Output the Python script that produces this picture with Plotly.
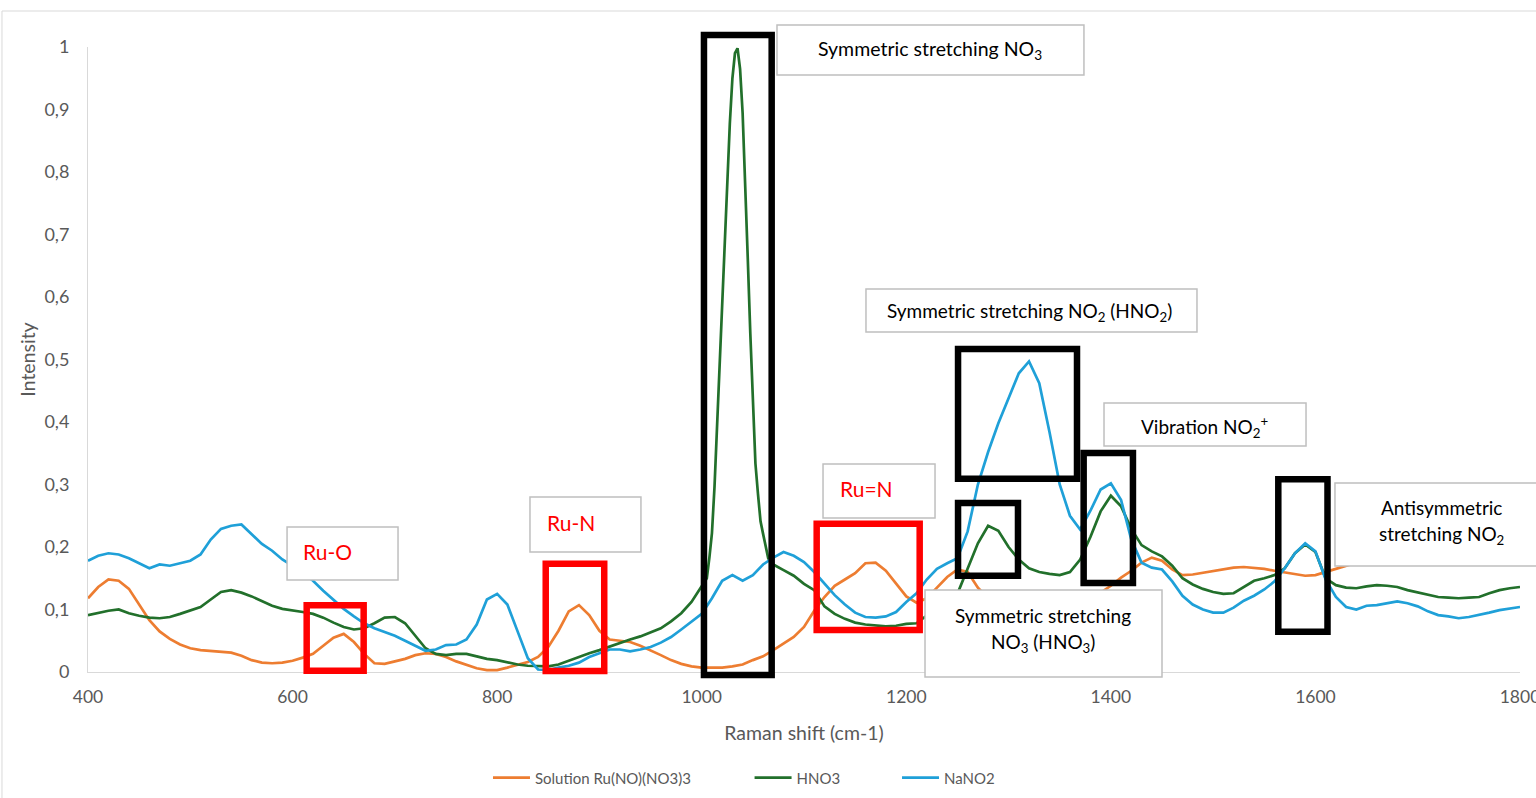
import plotly.graph_objects as go

# ---------------------------------------------------------------------------
# Raman spectra (intensity normalised to the strongest band)
# ---------------------------------------------------------------------------
X_MIN, X_MAX = 400, 1800

# Raman shift grid (cm-1) for the Ru solution and the NaNO2 spectra
shift = list(range(400, 1801, 10))

# HNO3 grid: same sampling, with a finer step across the 1035 cm-1 band
shift_hno3 = (list(range(400, 1000, 10))
              + [1000 + 2.5 * i for i in range(29)]
              + list(range(1080, 1801, 10)))

ru_solution = [
    0.118, 0.136, 0.148, 0.146, 0.133, 0.107, 0.083, 0.065, 0.053, 0.044,
    0.038, 0.035, 0.034, 0.033, 0.031, 0.026, 0.019, 0.015, 0.014, 0.015,
    0.018, 0.023, 0.029, 0.042, 0.055, 0.061, 0.048, 0.029, 0.014, 0.013,
    0.017, 0.021, 0.027, 0.030, 0.029, 0.024, 0.017, 0.011, 0.006, 0.003,
    0.003, 0.007, 0.011, 0.016, 0.024, 0.040, 0.066, 0.097, 0.107, 0.091,
    0.066, 0.052, 0.050, 0.048, 0.042, 0.035, 0.027, 0.019, 0.013, 0.009,
    0.007, 0.007, 0.007, 0.009, 0.012, 0.019, 0.025, 0.035, 0.046, 0.056,
    0.072, 0.098, 0.120, 0.138, 0.148, 0.158, 0.174, 0.175, 0.162, 0.142,
    0.121, 0.111, 0.118, 0.135, 0.152, 0.164, 0.160, 0.135, 0.118, 0.105,
    0.096, 0.090, 0.088, 0.090, 0.094, 0.100, 0.107, 0.114, 0.121, 0.127,
    0.138, 0.151, 0.162, 0.175, 0.183, 0.178, 0.164, 0.155, 0.156, 0.159,
    0.162, 0.165, 0.167, 0.168, 0.167, 0.165, 0.162, 0.159, 0.156, 0.154,
    0.155, 0.160, 0.165, 0.171, 0.175, 0.178, 0.180, 0.182, 0.183, 0.184,
    0.184, 0.185, 0.185, 0.186, 0.186, 0.186, 0.187, 0.187, 0.188, 0.188,
    0.188,
]

hno3 = [
    # 400 - 990
    0.091, 0.095, 0.098, 0.100, 0.094, 0.090, 0.087, 0.086, 0.088, 0.093,
    0.098, 0.104, 0.116, 0.128, 0.131, 0.127, 0.121, 0.113, 0.106, 0.101,
    0.099, 0.096, 0.093, 0.087, 0.079, 0.072, 0.068, 0.070, 0.078, 0.087,
    0.088, 0.078, 0.058, 0.038, 0.029, 0.027, 0.029, 0.029, 0.025, 0.021,
    0.019, 0.015, 0.012, 0.010, 0.009, 0.009, 0.012, 0.018, 0.025, 0.030,
    0.035, 0.041, 0.047, 0.052, 0.057, 0.063, 0.070, 0.081, 0.094, 0.112,
    # 1000 - 1070 (step 2.5)
    0.138, 0.145, 0.150, 0.183, 0.222, 0.296, 0.392, 0.493, 0.592, 0.690,
    0.793, 0.878, 0.950, 0.990, 0.998, 0.965, 0.894, 0.793, 0.663, 0.542,
    0.428, 0.334, 0.285, 0.241, 0.221, 0.204, 0.182, 0.175, 0.172,
    # 1080 - 1800
    0.163, 0.154, 0.141, 0.131, 0.105, 0.093, 0.085, 0.079, 0.076, 0.074,
    0.073, 0.074, 0.077, 0.078, 0.090, 0.103, 0.115, 0.125, 0.165, 0.206,
    0.234, 0.226, 0.200, 0.180, 0.166, 0.160, 0.157, 0.155, 0.160, 0.180,
    0.216, 0.257, 0.282, 0.265, 0.229, 0.203, 0.193, 0.185, 0.170, 0.150,
    0.140, 0.133, 0.128, 0.125, 0.126, 0.136, 0.146, 0.150, 0.155, 0.166,
    0.190, 0.204, 0.192, 0.150, 0.139, 0.135, 0.134, 0.137, 0.139, 0.138,
    0.136, 0.131, 0.127, 0.123, 0.120, 0.119, 0.118, 0.119, 0.120, 0.126,
    0.131, 0.134, 0.136,
]

nano2 = [
    0.178, 0.186, 0.190, 0.188, 0.182, 0.174, 0.166, 0.172, 0.170, 0.174,
    0.178, 0.188, 0.212, 0.229, 0.234, 0.236, 0.220, 0.205, 0.194, 0.180,
    0.170, 0.158, 0.146, 0.130, 0.116, 0.101, 0.089, 0.078, 0.070, 0.064,
    0.058, 0.050, 0.042, 0.034, 0.036, 0.043, 0.044, 0.052, 0.076, 0.116,
    0.125, 0.108, 0.065, 0.022, 0.004, 0.003, 0.007, 0.010, 0.015, 0.024,
    0.030, 0.036, 0.036, 0.033, 0.036, 0.040, 0.047, 0.056, 0.068, 0.080,
    0.093, 0.118, 0.146, 0.155, 0.146, 0.155, 0.172, 0.183, 0.192, 0.186,
    0.176, 0.160, 0.141, 0.123, 0.108, 0.095, 0.088, 0.087, 0.089, 0.096,
    0.112, 0.126, 0.148, 0.165, 0.174, 0.182, 0.225, 0.300, 0.352, 0.398,
    0.438, 0.478, 0.497, 0.462, 0.384, 0.300, 0.250, 0.228, 0.258, 0.292,
    0.302, 0.275, 0.212, 0.175, 0.167, 0.164, 0.145, 0.122, 0.108, 0.100,
    0.095, 0.095, 0.103, 0.114, 0.122, 0.132, 0.145, 0.166, 0.190, 0.206,
    0.193, 0.148, 0.120, 0.104, 0.100, 0.106, 0.107, 0.110, 0.113, 0.110,
    0.105, 0.097, 0.091, 0.089, 0.086, 0.088, 0.091, 0.095, 0.099, 0.102,
    0.104,
]

x_ticks = [400, 600, 800, 1000, 1200, 1400, 1600, 1800]
y_ticks = [0, 0.1, 0.2, 0.3, 0.4, 0.5, 0.6, 0.7, 0.8, 0.9, 1]
y_tick_text = ["0", "0,1", "0,2", "0,3", "0,4", "0,5", "0,6", "0,7", "0,8", "0,9", "1"]

series_names = ["Solution Ru(NO)(NO3)3", "HNO3", "NaNO2"]
series_colors = ["#ED7D31", "#22702B", "#1FA0D8"]

# legend entry left edges (fraction of figure width)
legend_x = [0.3177, 0.4880, 0.5840]

# ---------------------------------------------------------------------------
# Band highlight frames (x in cm-1, y in intensity): x0, x1, y0, y1, colour
# ---------------------------------------------------------------------------
band_frames = [
    (613.8, 669.5, 0.0019, 0.1067, "#FF0000"),   # Ru-O
    (847.5, 904.7, 0.0016, 0.1733, "#FF0000"),   # Ru-N
    (1112.4, 1213.1, 0.0672, 0.2371, "#FF0000"), # Ru=N
    (1002.2, 1068.4, -0.0048, 1.0192, "#000000"),
    (1250.6, 1366.9, 0.3093, 0.5168, "#000000"),
    (1250.6, 1309.2, 0.1539, 0.2704, "#000000"),
    (1373.4, 1421.6, 0.1424, 0.3504, "#000000"),
    (1563.7, 1611.8, 0.0645, 0.3083, "#000000"),
]

# Label boxes: x0, x1, y0, y1
label_boxes = [
    (1073.6, 1373.7, 0.9552, 1.0352),
    (594.6, 703.1, 0.1472, 0.2320),
    (832.1, 940.6, 0.1920, 0.2800),
    (1118.6, 1228.1, 0.2464, 0.3328),
    (1160.6, 1484.2, 0.5440, 0.6128),
    (1393.3, 1590.8, 0.3616, 0.4304),
    (1619.1, 1828.3, 0.1696, 0.3024),
    (1218.3, 1450.0, -0.0080, 0.1312),
]

# Label texts: x, y, text, colour, anchor, size
label_texts = [
    (1223.2, 0.9952, "Symmetric stretching NO<sub>3</sub>", "#000000", "center", 19.5),
    (608.2, 0.1936, "Ru-O", "#FF0000", "left", 21),
    (846.8, 0.2400, "Ru-N", "#FF0000", "left", 21),
    (1133.2, 0.2944, "Ru=N", "#FF0000", "left", 21),
    (1320.9, 0.5760, "Symmetric stretching NO<sub>2</sub> (HNO<sub>2</sub>)", "#000000", "center", 19),
    (1492.0, 0.3920, "Vibration NO<sub>2</sub><sup>+</sup>", "#000000", "center", 19),
    (1723.7, 0.2640, "Antisymmetric", "#000000", "center", 19),
    (1723.7, 0.2192, "stretching NO<sub>2</sub>", "#000000", "center", 19),
    (1333.6, 0.0912, "Symmetric stretching", "#000000", "center", 19),
    (1333.6, 0.0464, "NO<sub>3</sub> (HNO<sub>3</sub>)", "#000000", "center", 19),
]

FONT = "Lato, 'Open Sans', sans-serif"
GREY_TEXT = "#595959"


def px(x):
    """Raman shift -> fraction of the plotting area width."""
    return (x - X_MIN) / (X_MAX - X_MIN)


fig = go.Figure()

traces = [(shift, ru_solution), (shift_hno3, hno3), (shift, nano2)]
legend_ids = ["legend", "legend2", "legend3"]
for (xs, ys), name, col, lid in zip(traces, series_names, series_colors, legend_ids):
    fig.add_trace(go.Scatter(x=xs, y=ys, mode="lines", name=name, legend=lid,
                             line=dict(color=col, width=2.7)))

shapes = []
# outer chart frame
shapes.append(dict(type="rect", xref="paper", yref="paper",
                   x0=px(315.9), x1=px(1900), y0=-0.3, y1=1.0576,
                   line=dict(color="#D9D9D9", width=1), fillcolor="rgba(0,0,0,0)",
                   layer="below"))
for x0, x1, y0, y1, col in band_frames:
    shapes.append(dict(type="rect", xref="paper", yref="paper",
                       x0=px(x0), x1=px(x1), y0=y0, y1=y1,
                       line=dict(color=col, width=6.5),
                       fillcolor="rgba(0,0,0,0)", layer="above"))
for x0, x1, y0, y1 in label_boxes:
    shapes.append(dict(type="rect", xref="paper", yref="paper",
                       x0=px(x0), x1=px(x1), y0=y0, y1=y1,
                       line=dict(color="#BFBFBF", width=1.5),
                       fillcolor="#FFFFFF", layer="above"))

annotations = []
for x, y, text, col, anchor, size in label_texts:
    annotations.append(dict(x=x, y=y, xref="x", yref="y", text=text,
                            showarrow=False, xanchor=anchor, yanchor="middle",
                            font=dict(family=FONT, size=size, color=col)))

legend_style = dict(orientation="h", xref="container", yref="container",
                    xanchor="left", y=0.0251, yanchor="middle",
                    font=dict(family=FONT, size=15, color=GREY_TEXT),
                    bgcolor="rgba(0,0,0,0)", itemwidth=37)

fig.update_layout(
    width=1536, height=798,
    margin=dict(l=88, r=16, t=47, b=126, autoexpand=False),
    paper_bgcolor="white", plot_bgcolor="white",
    font=dict(family=FONT, color=GREY_TEXT),
    shapes=shapes,
    annotations=annotations,
    showlegend=True,
    legend=dict(x=legend_x[0], **legend_style),
    legend2=dict(x=legend_x[1], **legend_style),
    legend3=dict(x=legend_x[2], **legend_style),
    xaxis=dict(range=[X_MIN, X_MAX], tickvals=x_ticks,
               showgrid=False, zeroline=False, showline=True,
               linecolor="#D9D9D9", linewidth=1, ticks="",
               automargin=False, ticklabeloverflow="allow",
               ticklabelstandoff=9,
               tickfont=dict(family=FONT, size=17.5, color=GREY_TEXT),
               title=dict(text="Raman shift (cm-1)", standoff=20,
                          font=dict(family=FONT, size=19.5, color=GREY_TEXT))),
    yaxis=dict(range=[0, 1], tickvals=y_ticks, ticktext=y_tick_text,
               showgrid=False, zeroline=False, showline=True,
               linecolor="#D9D9D9", linewidth=1, ticks="",
               automargin=False, ticklabelstandoff=14,
               tickfont=dict(family=FONT, size=18, color=GREY_TEXT),
               title=dict(text="Intensity", standoff=3,
                          font=dict(family=FONT, size=19.5, color=GREY_TEXT))),
)

fig.write_html("out.html")
